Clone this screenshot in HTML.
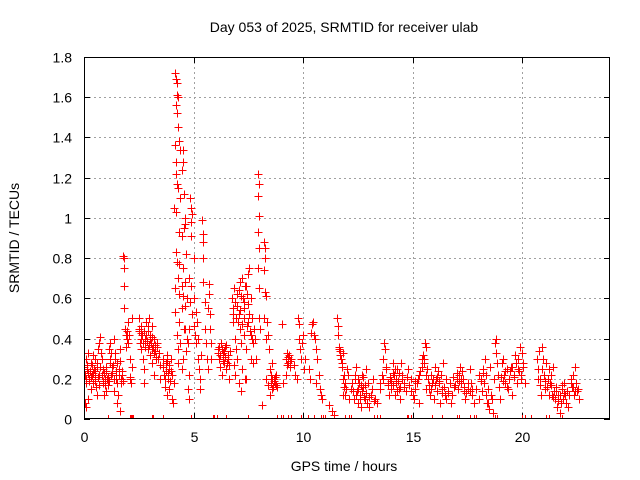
<!DOCTYPE html>
<html><head><meta charset="utf-8"><style>
html,body{margin:0;padding:0;background:#fff}
svg{display:block}
text{font-family:"Liberation Sans",sans-serif;font-size:14px;fill:#000}
</style></head><body>
<svg id="chart" width="640" height="480" viewBox="0 0 640 480" xmlns="http://www.w3.org/2000/svg">
<rect width="640" height="480" fill="#fff"/>
<text x="344" y="32" text-anchor="middle">Day 053 of 2025, SRMTID for receiver ulab</text>
<text x="344" y="471" text-anchor="middle">GPS time / hours</text>
<text transform="translate(19,238) rotate(-90)" text-anchor="middle">SRMTID / TECUs</text>
<g id="grid"></g>
<g id="ticks"></g>
<defs><clipPath id="pc"><rect x="84" y="57" width="526" height="362"/></clipPath></defs>
<g id="marks" clip-path="url(#pc)"></g>
<g id="zeromarks"></g>
<rect x="84.5" y="57.5" width="525" height="361" fill="none" stroke="#000" stroke-width="1" shape-rendering="crispEdges"/>
</svg>
<script>
const xTicks=[0,5,10,15,20];
const yTicks=[0,0.2,0.4,0.6,0.8,1,1.2,1.4,1.6,1.8];
const yTickLabels=["0","0.2","0.4","0.6","0.8","1","1.2","1.4","1.6","1.8"];
const times=[
0,.05,.1,.1,.15,.2,.2,.25,.3,.3,.35,.4,.4,.45,.5,.5,.55,.6,.65,.7,.7,.75,.8,.85,.85,.9,.95,1,1,1.05,1.1,1.15,1.2,1.2,1.25,1.3,1.35,1.35,1.4,1.45,1.5,1.5,1.55,1.6,1.65,1.65,1.7,1.75,1.8,1.82,1.82,1.82,1.82,1.85,1.9,1.95,2,2.05,2.1,2.1,2.15,2.2,2.2,.05,.1,1.1,.6,
2.5,2.5,2.55,2.6,2.6,2.65,2.7,2.75,2.75,2.8,2.85,2.9,2.9,2.95,3,3,3.05,3.1,3.1,3.15,3.2,3.2,3.25,3.3,3.35,3.4,3.45,3.45,
3.6,3.65,3.7,3.75,3.8,3.8,3.85,3.9,3.9,3.95,4,4,4.05,4.1,
4.15,4.2,4.25,4.2,4.25,4.3,4.25,4.3,4.15,4.35,4.4,4.5,4.5,4.45,4.2,4.2,4.25,4.3,4.4,4.55,4.1,4.2,4.35,4.45,4.55,4.6,4.6,4.2,4.25,4.35,4.65,4.5,4.3,4.15,4.45,4.6,4.35,4.5,4.7,4.15,4.45,4.6,4.35,4.25,4.4,4.3,4.55,4.65,4.7,4.5,4.45,4.3,4.6,
4.8,4.85,4.9,4.9,4.9,4.95,5,4.8,4.9,4.85,4.95,5,4.8,4.75,5.05,5.1,5.15,5.2,5.2,5.25,5.3,5.3,5.35,5.4,5.45,5.45,5.45,5.45,5.5,5.5,5.55,5.6,5.65,5.65,5.7,5.7,5.75,5.75,5.8,5.8,4.75,4.8,5,5.1,
6.1,6.15,6.2,6.25,6.3,6.35,6.4,6.45,6.5,6.55,6.6,6.65,
6.75,6.8,6.8,6.85,6.9,6.9,6.95,7,7,7.05,7.1,7.1,7.15,7.2,7.2,7.25,7.3,7.3,7.35,7.4,7.4,7.45,7.5,7.5,7.55,7.6,7.6,7.65,7.7,7.7,7.75,7.05,7.15,6.9,7.35,6.85,
7.95,7.97,7.95,7.97,7.95,7.97,7.95,7.97,7.8,7.85,8,8.05,
8.2,8.25,8.25,8.2,8.25,8.3,8.2,8.35,8.3,8.4,8.45,8.5,8.3,8.4,8.55,8.6,8.65,8.7,8.75,8.8,8.6,8.1,8.5,
9.05,9.2,9.25,9.3,9.35,9.4,9.45,9.2,9.1,
9.6,9.65,9.7,9.75,9.8,9.8,9.85,9.9,9.95,10,10.05,10.1,
10.25,10.3,10.35,10.4,10.45,10.5,10.55,10.6,10.65,10.7,10.75,10.8,10.85,10.6,
11.2,11.3,11.4,11.55,11.6,11.6,11.65,11.7,11.75,11.8,11.85,11.9,11.95,12,12.05,12.1,11.8,
12.2,12.3,12.35,12.4,12.45,12.5,12.55,12.6,12.65,12.7,12.75,12.8,12.85,12.9,12.95,13,13.1,13.2,13.3,13.35,
13.5,13.6,13.65,13.7,13.75,13.8,13.85,13.9,13.95,14,14.1,14.15,14.2,14.25,14.3,14.35,14.4,14.5,14.6,14.7,14.8,14.9,15,14.45,
15.05,15.1,15.2,15.3,15.4,15.45,15.5,15.55,15.6,15.65,15.7,15.75,15.8,15.85,15.9,15.95,16,16.05,16.1,16.15,16.2,16.25,16.3,16.35,16.4,16.45,15.3,15.6,
16.5,16.6,16.7,16.75,16.8,16.9,17,17.05,17.1,17.15,17.2,17.25,17.3,17.35,17.4,17.5,17.6,17.65,17.7,17.8,17.9,
18,18.1,18.15,18.2,18.25,18.3,18.35,18.4,18.45,18.5,18.55,18.6,18.65,18.7,18.75,18.8,18.8,18.85,18.9,18.95,19,
19.05,19.1,19.15,19.2,19.3,19.35,19.4,19.5,19.55,19.6,19.65,19.7,19.75,19.8,19.85,19.9,19.95,20,20.05,20.1,
20.65,20.7,20.75,20.8,20.85,20.9,20.95,21,21.05,21.1,21.15,21.2,21.25,21.3,21.35,21.4,21.45,
21.5,21.55,21.6,21.65,21.7,21.75,21.8,21.85,21.9,21.95,22,22.05,22.1,22.2,22.25,22.3,22.35,22.4,22.45,22.5,22.55,22.6,
.02,.08,.12,.18,.22,.28,.32,.38,.42,.48,.52,.58,.62,.68,.72,.78,.82,.88,.92,.98,1.02,1.08,1.12,1.18,1.22,1.28,1.32,1.38,1.42,1.48,1.52,1.58,1.62,1.68,1.72,1.78,1.92,1.98,2.02,2.08,
2.52,2.58,2.62,2.68,2.72,2.78,2.82,2.88,2.92,2.98,3.02,3.08,3.12,3.18,3.22,3.28,3.32,3.38,3.62,3.68,3.72,3.78,3.82,3.88,3.92,3.98,
6.12,6.18,6.22,6.28,6.32,6.38,6.42,6.48,6.52,6.58,6.62,6.78,6.82,6.88,6.92,6.98,7.02,7.08,7.12,7.18,7.22,7.28,7.32,7.38,7.42,7.48,7.52,7.58,7.62,7.68,
8.52,8.58,8.62,8.68,8.72,8.78,9.22,9.28,9.32,9.38,
11.62,11.68,11.72,11.78,11.82,11.88,11.92,12.22,12.28,12.38,12.42,12.48,12.52,12.58,12.62,12.68,12.72,12.78,12.82,12.88,13.02,13.12,13.22,
13.52,13.62,13.78,13.88,13.98,14.02,14.08,14.12,14.18,14.22,14.28,14.32,14.38,14.42,14.52,14.62,14.72,14.82,14.92,
15.12,15.22,15.32,15.42,15.52,15.62,15.72,15.82,15.92,16.02,16.12,16.22,16.32,16.42,16.52,16.62,16.72,16.82,16.92,17.02,17.12,17.22,17.32,17.42,17.52,17.62,17.72,
18.02,18.12,18.22,18.32,18.42,18.52,19.02,19.12,19.22,19.32,19.42,19.52,19.62,19.72,19.82,19.92,20.02,
20.72,20.82,20.92,21.02,21.12,21.22,21.32,21.42,21.52,21.62,21.72,21.82,21.92,22.02,22.12,22.22,22.32,22.42,22.52];
const values=[
.26,.22,.18,.30,.25,.33,.10,.20,.28,.15,.22,.32,.18,.25,.20,.30,.16,.28,.35,.22,.38,.41,.30,.18,.25,.12,.20,.14,.24,.20,.17,.35,.30,.38,.22,.26,.40,.14,.33,.20,.28,.08,.12,.25,.35,.04,.18,.22,.81,.80,.75,.66,.55,.45,.36,.40,.48,.42,.30,.20,.18,.26,.50,.08,.06,.20,.12,
.50,.44,.38,.35,.46,.42,.30,.25,.18,.40,.48,.44,.35,.50,.42,.32,.38,.46,.28,.36,.40,.22,.34,.30,.38,.33,.27,.20,
.30,.22,.16,.28,.32,.12,.20,.25,.15,.30,.10,.22,.08,.18,
1.72,1.69,1.67,1.56,1.61,1.60,1.52,1.45,1.36,1.38,1.34,1.34,1.28,1.24,1.28,1.22,1.17,1.15,1.10,1.12,1.05,1.03,.93,.91,.95,.97,1.00,.83,.78,.77,.82,.75,.70,.65,.66,.68,.62,.61,.60,.53,.55,.56,.48,.42,.38,.35,.45,.34,.40,.30,.25,.28,.45,
.10,1.10,1.05,.98,.91,1.02,.80,.70,.66,.58,.52,.46,.45,.38,.42,.38,.48,.40,.30,.25,.20,.15,.32,.99,.92,.80,.88,.68,.58,.45,.38,.30,.25,.55,.67,.62,.52,.45,.38,.30,.15,.22,.60,.53,
.35,.30,.26,.38,.22,.33,.28,.36,.25,.30,.20,.34,
.60,.55,.48,.65,.58,.40,.35,.62,.30,.52,.68,.45,.38,.70,.25,.60,.55,.42,.66,.35,.20,.62,.48,.72,.75,.42,.30,.50,.38,.28,.45,.18,.14,.22,.20,.27,
1.22,1.17,1.11,1.01,.93,.85,.75,.65,.40,.30,.50,.45,
.88,.85,.80,.74,.63,.61,.50,.48,.40,.42,.35,.25,.20,.17,.22,.15,.20,.18,.22,.16,.28,.07,.12,
.47,.30,.33,.28,.32,.26,.30,.22,.18,
.27,.22,.20,.50,.47,.40,.35,.30,.38,.42,.25,.30,
.25,.20,.43,.47,.48,.42,.40,.35,.30,.22,.15,.12,.10,.18,
.07,.04,.02,.50,.46,.42,.35,.32,.28,.33,.22,.18,.15,.25,.22,.10,.12,
.15,.10,.20,.26,.14,.08,.18,.12,.06,.22,.16,.10,.25,.08,.18,.06,.12,.20,.10,.08,
.15,.22,.30,.38,.35,.25,.18,.12,.20,.15,.28,.22,.12,.18,.25,.15,.10,.22,.18,.14,.25,.20,.12,.28,
.10,.15,.18,.22,.30,.32,.28,.38,.36,.25,.20,.15,.12,.22,.18,.10,.26,.20,.14,.24,.18,.08,.22,.15,.28,.12,.08,.15,
.10,.14,.18,.08,.12,.16,.20,.15,.22,.26,.18,.24,.20,.14,.10,.15,.25,.18,.12,.08,.15,
.10,.20,.14,.25,.18,.30,.22,.08,.15,.05,.12,.10,.03,.20,.38,.40,.33,.28,.22,.16,.10,
.28,.30,.22,.18,.25,.15,.20,.26,.12,.22,.32,.28,.18,.30,.24,.36,.20,.33,.26,.18,
.30,.25,.34,.20,.12,.36,.30,.22,.15,.28,.20,.25,.18,.22,.12,.26,.14,
.10,.16,.06,.12,.03,.08,.15,.10,.18,.12,.08,.14,.06,.20,.16,.22,.12,.26,.18,.14,.15,.10,
.24,.20,.27,.23,.19,.24,.21,.27,.23,.19,.24,.26,.21,.17,.26,.33,.22,.19,.23,.17,.26,.21,.19,.28,.33,.23,.27,.20,.30,.24,.18,.22,.29,.20,.24,.19,.42,.44,.38,.21,
.45,.40,.43,.38,.44,.36,.42,.39,.46,.37,.40,.35,.41,.33,.37,.31,.36,.30,.26,.20,.24,.29,.23,.27,.19,.24,
.33,.36,.32,.35,.29,.34,.31,.37,.28,.32,.27,.55,.52,.58,.50,.56,.48,.64,.54,.61,.47,.58,.50,.66,.46,.57,.52,.44,.60,.40,
.18,.20,.16,.19,.21,.17,.30,.27,.31,.29,
.36,.34,.30,.26,.20,.16,.12,.18,.14,.22,.12,.20,.15,.10,.17,.14,.21,.11,.17,.13,.11,.15,.09,
.18,.20,.26,.17,.21,.19,.23,.17,.25,.20,.14,.19,.23,.16,.20,.16,.21,.17,
.14,.19,.20,.24,.26,.30,.22,.17,.15,.20,.17,.21,.19,.13,.16,.20,.13,.18,.21,.17,.23,.19,.20,.16,.13,.18,.14,
.15,.22,.19,.23,.12,.08,.26,.21,.19,.24,.16,.24,.26,.21,.28,.25,.22,
.28,.20,.17,.25,.19,.16,.12,.17,.11,.14,.09,.12,.17,.13,.14,.12,.18,.16,.14];
const zeroTimes=[1.1,2.1,2.15,2.2,2.25,3.1,3.15,3.6,4.9,5.9,5.95,6.05,6.5,7.5,8.8,9.0,9.1,9.3,9.45,9.9,10.2,10.5,10.8,10.9,11.0,11.9,12.1,12.2,13.25,13.35,13.5,14.75,14.8,14.9,15.9,16.35,17.0,17.1,17.6,17.8,17.9,18.75,18.85,20.0,20.1,20.4,21.1,21.2,21.8];

const X0=84,X1=610,Y0=419,Y1=57,XMAX=24,YMAX=1.8;
function sx(h){return X0+(X1-X0)*h/XMAX;}
function sy(v){return Y0-(Y0-Y1)*v/YMAX;}
const NS="http://www.w3.org/2000/svg";
const grid=document.getElementById('grid'),ticks=document.getElementById('ticks'),marks=document.getElementById('marks'),zm=document.getElementById('zeromarks');
function mk(tag,attrs,parent){const e=document.createElementNS(NS,tag);for(const k in attrs)e.setAttribute(k,attrs[k]);parent.appendChild(e);return e;}
xTicks.forEach(t=>{
  const x=Math.round(sx(t))+0.5;
  if(t>0){const g=mk('line',{x1:x,x2:x,y1:Y1,y2:Y0,stroke:'#a0a0a0','stroke-dasharray':'2,3','shape-rendering':'crispEdges'},grid);
  
  }
  mk('line',{x1:x,x2:x,y1:Y0,y2:Y0-6,stroke:'#000','shape-rendering':'crispEdges'},ticks);
  mk('line',{x1:x,x2:x,y1:Y1,y2:Y1+6,stroke:'#000','shape-rendering':'crispEdges'},ticks);
  const l=mk('text',{x:x,y:Y0+23,'text-anchor':'middle'},ticks);l.textContent=String(t);
  
  
});
yTicks.forEach((t,i)=>{
  const y=Math.round(sy(t))+0.5;
  if(t>0&&t<YMAX){const g=mk('line',{x1:X0,x2:X1,y1:y,y2:y,stroke:'#a0a0a0','stroke-dasharray':'2,3','shape-rendering':'crispEdges'},grid);
  
  }
  mk('line',{x1:X0,x2:X0+6,y1:y,y2:y,stroke:'#000','shape-rendering':'crispEdges'},ticks);
  mk('line',{x1:X1,x2:X1-6,y1:y,y2:y,stroke:'#000','shape-rendering':'crispEdges'},ticks);
  const l=mk('text',{x:X0-12,y:y+5,'text-anchor':'end'},ticks);l.textContent=yTickLabels[i];
  
  
});
let d='';
for(let i=0;i<times.length;i++){const x=Math.round(sx(times[i]))+0.5,y=Math.round(sy(values[i]))+0.5;d+=`M${x-4} ${y}h8M${x} ${y-4}v8`;}
const p=mk('path',{d:d,stroke:'#ff0000','stroke-width':1,fill:'none','shape-rendering':'crispEdges'},marks);


let dz='';
for(let i=0;i<zeroTimes.length;i++){const x=Math.round(sx(zeroTimes[i]))+0.5,y=Math.round(sy(0));dz+=`M${x} ${y-4}v4`;}
const pz=mk('path',{d:dz,stroke:'#ff0000','stroke-width':1,fill:'none','shape-rendering':'crispEdges'},zm);


</script>
</body></html>
